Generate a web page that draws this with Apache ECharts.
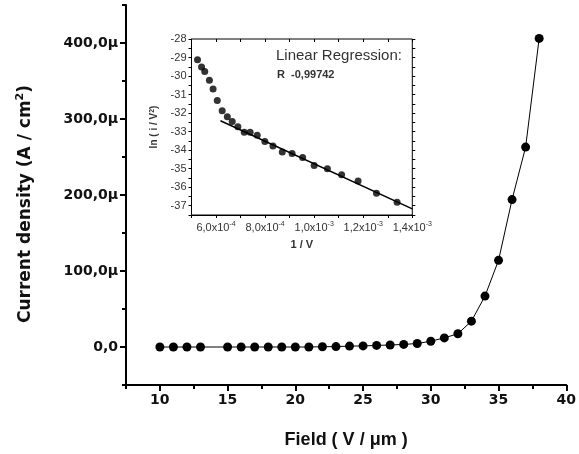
<!DOCTYPE html>
<html>
<head>
<meta charset="utf-8">
<script src="https://cdn.jsdelivr.net/npm/echarts@6/dist/echarts.min.js"></script>
<style>
  html, body { margin: 0; padding: 0; background: #fff; }
  #chart { width: 579px; height: 454px; }
</style>
</head>
<body>
<div id="chart"></div>
<script>
// Main plot: current density vs field
const fieldX = [10, 11, 12, 13, 15, 16, 17, 18, 19, 20, 21, 22, 23, 24, 25, 26, 27, 28, 29, 30, 31, 32, 33, 34, 35, 36, 37, 38];
const currentY = [0, 0, 0, 0, 0, 0, 0, 0, 0, 0, 0, 0.4, 0.5, 1.2, 1.4, 2.1, 2.6, 3.4, 4.6, 7.6, 12, 17.4, 34, 67, 114, 194, 263, 406];
const mainXLabels = [10, 15, 20, 25, 30, 35, 40];
const mainXMinor = [7.5, 12.5, 17.5, 22.5, 27.5, 32.5, 37.5];
const mainYLabels = [0, 100, 200, 300, 400];
const mainYMinor = [-50, 50, 150, 250, 350, 450];

// Inset: ln(i/V^2) vs 1/V
const invV = [5.245e-4, 5.41e-4, 5.54e-4, 5.73e-4, 5.88e-4, 6.05e-4, 6.25e-4, 6.46e-4, 6.66e-4, 6.89e-4, 7.15e-4, 7.39e-4, 7.68e-4, 7.99e-4, 8.32e-4, 8.70e-4, 9.10e-4, 9.53e-4, 1.0e-3, 1.054e-3, 1.112e-3, 1.179e-3, 1.254e-3, 1.338e-3];
const lnIV2 = [-29.12, -29.51, -29.75, -30.22, -30.70, -31.32, -31.87, -32.20, -32.45, -32.74, -33.03, -33.03, -33.20, -33.53, -33.78, -34.10, -34.18, -34.40, -34.83, -35.00, -35.33, -35.66, -36.32, -36.81];
const fitX = [6.18e-4, 1.4e-3];
const fitY = [-32.41, -37.17];
const insetXLabels = [6e-4, 8e-4, 1e-3, 1.2e-3, 1.4e-3];
const insetYLabels = [-37, -36, -35, -34, -33, -32, -31, -30, -29, -28];
const regressionTitle = 'Linear Regression:';
const regressionR = 'R  -0,99742';

const chart = echarts.init(document.getElementById('chart'), null, { renderer: 'canvas' });

const bold14 = { fontFamily: 'DejaVu Sans', fontWeight: 'bold', fontSize: 14, color: '#111' };

function sciLabel(v) {
  const e = Math.floor(Math.log10(v) + 1e-9);
  const m = v / Math.pow(10, e);
  return '{b|' + m.toFixed(1).replace('.', ',') + 'x10}{s|' + e + '}';
}

const option = {
  backgroundColor: '#fff',
  animation: false,
  grid: [
    { left: 126, right: 12.3, top: 5, bottom: 65, containLabel: false },
    { left: 191.5, right: 166.7, top: 39, bottom: 239, show: true, borderColor: '#000', borderWidth: 1, backgroundColor: 'transparent' }
  ],
  xAxis: [
    {
      gridIndex: 0, type: 'value', min: 7.5, max: 40, position: 'bottom',
      axisLine: { show: true, onZero: false, lineStyle: { color: '#000', width: 2 } },
      axisTick: { show: true, customValues: mainXLabels, length: 6, lineStyle: { color: '#000', width: 2 } },
      axisLabel: Object.assign({ customValues: mainXLabels, margin: 8 }, bold14),
      splitLine: { show: false },
      name: 'Field ( V / \u03bcm )', nameLocation: 'middle', nameGap: 46,
      nameTextStyle: { fontFamily: 'Liberation Sans', fontWeight: 'bold', fontSize: 18, color: '#111' }
    },
    {
      gridIndex: 0, type: 'value', min: 7.5, max: 40, position: 'bottom',
      axisLine: { show: false, onZero: false },
      axisTick: { show: true, customValues: mainXMinor, length: 4, lineStyle: { color: '#000', width: 2 } },
      axisLabel: { show: false }, splitLine: { show: false }
    },
    {
      gridIndex: 1, type: 'value', min: 5e-4, max: 1.4e-3, interval: 1e-4, position: 'bottom',
      axisLine: { show: true, onZero: false, lineStyle: { color: '#000', width: 1 } },
      axisTick: { show: true, length: 3, lineStyle: { color: '#000', width: 1 } },
      axisLabel: {
        customValues: insetXLabels, margin: 6, formatter: sciLabel,
        rich: {
          b: { fontFamily: 'Liberation Sans', fontSize: 11, color: '#333' },
          s: { fontFamily: 'Liberation Sans', fontSize: 7, color: '#333', verticalAlign: 'top', padding: [0, 0, 6, 0] }
        }
      },
      splitLine: { show: false },
      name: '1 / V', nameLocation: 'middle', nameGap: 24,
      nameTextStyle: { fontFamily: 'Liberation Sans', fontWeight: 'bold', fontSize: 11, color: '#333' }
    },
    {
      gridIndex: 1, type: 'value', min: 5e-4, max: 1.4e-3, interval: 1e-4, position: 'top',
      axisLine: { show: false, onZero: false },
      axisTick: { show: true, inside: true, length: 3, lineStyle: { color: '#000', width: 1 } },
      axisLabel: { show: false }, splitLine: { show: false }
    }
  ],
  yAxis: [
    {
      gridIndex: 0, type: 'value', min: -50, max: 450, position: 'left',
      axisLine: { show: true, onZero: false, lineStyle: { color: '#000', width: 2 } },
      axisTick: { show: true, customValues: mainYLabels, length: 6, lineStyle: { color: '#000', width: 2 } },
      axisLabel: Object.assign({
        customValues: mainYLabels, margin: 8,
        formatter: v => v === 0 ? '0,0' : v.toFixed(1).replace('.', ',') + '\u00b5'
      }, bold14),
      splitLine: { show: false },
      name: 'Current density (A / cm{sup|2})', nameLocation: 'middle', nameGap: 90, nameRotate: 90,
      nameTextStyle: {
        fontFamily: 'DejaVu Sans', fontWeight: 'bold', fontSize: 17, color: '#111', padding: [0, 18, 0, 0],
        rich: { sup: { fontFamily: 'DejaVu Sans', fontWeight: 'bold', fontSize: 11, color: '#111', verticalAlign: 'top', padding: [0, 0, 10, 0] } }
      }
    },
    {
      gridIndex: 0, type: 'value', min: -50, max: 450, position: 'left',
      axisLine: { show: false, onZero: false },
      axisTick: { show: true, customValues: mainYMinor, length: 4, lineStyle: { color: '#000', width: 2 } },
      axisLabel: { show: false }, splitLine: { show: false }
    },
    {
      gridIndex: 1, type: 'value', min: -37.5, max: -28, interval: 0.5, position: 'left',
      axisLine: { show: true, onZero: false, lineStyle: { color: '#000', width: 1 } },
      axisTick: { show: true, length: 3, lineStyle: { color: '#000', width: 1 } },
      axisLabel: { customValues: insetYLabels, margin: 5, fontFamily: 'Liberation Sans', fontSize: 11, color: '#333' },
      splitLine: { show: false },
      name: 'ln ( i / V{sup|2})', nameLocation: 'middle', nameGap: 31, nameRotate: 90,
      nameTextStyle: {
        fontFamily: 'Liberation Sans', fontWeight: 'bold', fontSize: 10, color: '#333',
        rich: { sup: { fontFamily: 'Liberation Sans', fontWeight: 'bold', fontSize: 7, color: '#333', verticalAlign: 'top', padding: [0, 0, 5, 0] } }
      }
    },
    {
      gridIndex: 1, type: 'value', min: -37.5, max: -28, interval: 0.5, position: 'right',
      axisLine: { show: false, onZero: false },
      axisTick: { show: true, length: 3, lineStyle: { color: '#000', width: 1 } },
      axisLabel: { show: false }, splitLine: { show: false }
    }
  ],
  graphic: [
    { type: 'text', left: 276, top: 48, style: { text: regressionTitle, fontFamily: 'Liberation Sans', fontSize: 15, fill: '#333' } },
    { type: 'text', left: 277, top: 69, style: { text: regressionR, fontFamily: 'Liberation Sans', fontWeight: 'bold', fontSize: 11, fill: '#333' } }
  ],
  series: [
    {
      type: 'line', xAxisIndex: 0, yAxisIndex: 0,
      data: fieldX.map((x, i) => [x, currentY[i]]),
      symbol: 'circle', symbolSize: 9,
      itemStyle: { color: '#000' },
      lineStyle: { color: '#000', width: 1 }
    },
    {
      type: 'line', xAxisIndex: 2, yAxisIndex: 2,
      data: fitX.map((x, i) => [x, fitY[i]]),
      showSymbol: false, symbol: 'none',
      lineStyle: { color: '#000', width: 1.5 }
    },
    {
      type: 'scatter', xAxisIndex: 2, yAxisIndex: 2,
      data: invV.map((x, i) => [x, lnIV2[i]]),
      symbol: 'circle', symbolSize: 7,
      itemStyle: { color: '#000' }
    }
  ]
};

chart.setOption(option);
</script>
</body>
</html>
